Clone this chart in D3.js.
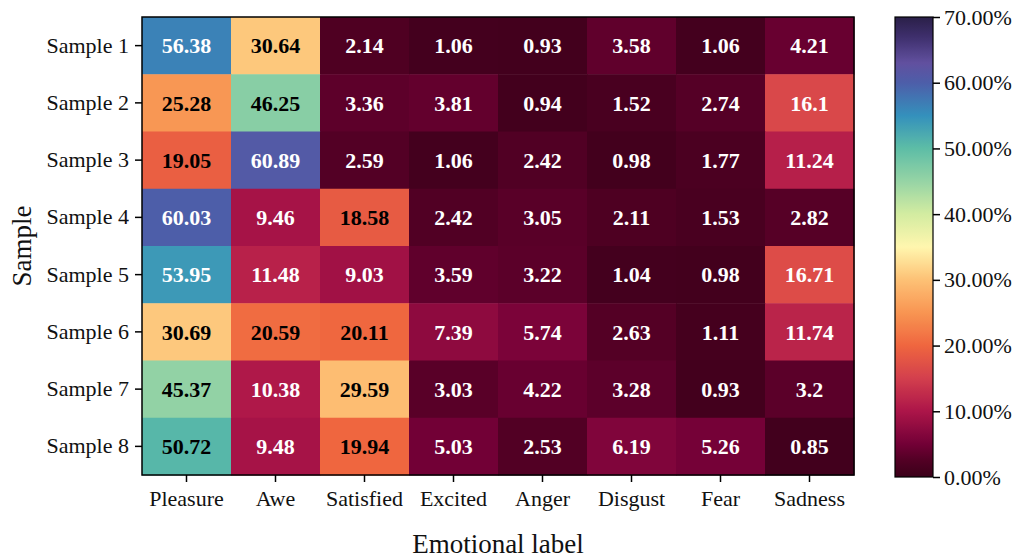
<!DOCTYPE html>
<html>
<head>
<meta charset="utf-8">
<script src="https://cdn.jsdelivr.net/npm/d3@7"></script>
<style>
  html, body { margin: 0; padding: 0; background: #fff; }
  svg { display: block; font-family: "Liberation Serif", "Times New Roman", serif; }
</style>
</head>
<body>
<svg id="chart" width="1024" height="558"></svg>
<script>
// Emotion distribution per sample (percent)
const samples = ["Sample 1", "Sample 2", "Sample 3", "Sample 4", "Sample 5", "Sample 6", "Sample 7", "Sample 8"];
const emotions = ["Pleasure", "Awe", "Satisfied", "Excited", "Anger", "Disgust", "Fear", "Sadness"];

const sample1 = [56.38, 30.64, 2.14, 1.06, 0.93, 3.58, 1.06, 4.21];
const sample2 = [25.28, 46.25, 3.36, 3.81, 0.94, 1.52, 2.74, 16.1];
const sample3 = [19.05, 60.89, 2.59, 1.06, 2.42, 0.98, 1.77, 11.24];
const sample4 = [60.03, 9.46, 18.58, 2.42, 3.05, 2.11, 1.53, 2.82];
const sample5 = [53.95, 11.48, 9.03, 3.59, 3.22, 1.04, 0.98, 16.71];
const sample6 = [30.69, 20.59, 20.11, 7.39, 5.74, 2.63, 1.11, 11.74];
const sample7 = [45.37, 10.38, 29.59, 3.03, 4.22, 3.28, 0.93, 3.2];
const sample8 = [50.72, 9.48, 19.94, 5.03, 2.53, 6.19, 5.26, 0.85];
const rows = [sample1, sample2, sample3, sample4, sample5, sample6, sample7, sample8];

const colorbarTicks = [0, 10, 20, 30, 40, 50, 60, 70];

// Colour ramp: dark maroon through the spectral hues to deep indigo
const rampStops = [0, 2.5, 5, 10, 15, 20, 25, 30, 35, 40, 45, 50, 55, 60, 63, 67, 70];
const rampColors = ["#3a0019", "#520024", "#720036", "#ac1549", "#d33f4d", "#ef663f", "#f89552", "#fdc175",
                    "#fff6ae", "#d3eca1", "#96d4a5", "#5dbda6", "#3490bc", "#4d5ea9", "#61509f",
                    "#3e2f6c", "#2a1f48"];
const color = d3.scaleLinear().domain(rampStops).range(rampColors).interpolate(d3.interpolateRgb);

const svg = d3.select("#chart");
const heat = { left: 142, top: 17, width: 712, height: 458 };

const x = d3.scaleBand().domain(emotions).range([heat.left, heat.left + heat.width]);
const y = d3.scaleBand().domain(samples).range([heat.top, heat.top + heat.height]);

const cells = [];
rows.forEach((vals, i) => vals.forEach((v, j) => cells.push({ s: samples[i], e: emotions[j], v })));

svg.append("g").selectAll("rect").data(cells).join("rect")
  .attr("x", d => x(d.e))
  .attr("y", d => y(d.s))
  .attr("width", x.bandwidth() + 0.5)
  .attr("height", y.bandwidth() + 0.5)
  .attr("fill", d => color(d.v));

svg.append("g").selectAll("text").data(cells).join("text")
  .attr("x", d => x(d.e) + x.bandwidth() / 2)
  .attr("y", d => y(d.s) + y.bandwidth() / 2)
  .attr("dy", "0.35em")
  .attr("text-anchor", "middle")
  .attr("font-size", 22)
  .attr("font-weight", "bold")
  .attr("fill", d => (d.v > 17.5 && d.v < 52) ? "#000" : "#fff")
  .text(d => d.v);

svg.append("rect")
  .attr("x", heat.left).attr("y", heat.top)
  .attr("width", heat.width).attr("height", heat.height)
  .attr("fill", "none").attr("stroke", "#000").attr("stroke-width", 1.5);

// Axes
const xAxis = svg.append("g")
  .attr("transform", `translate(0,${heat.top + heat.height})`)
  .call(d3.axisBottom(x).tickSize(7).tickPadding(8));
const yAxis = svg.append("g")
  .attr("transform", `translate(${heat.left},0)`)
  .call(d3.axisLeft(y).tickSize(7).tickPadding(6));
[xAxis, yAxis].forEach(g => {
  g.select(".domain").remove();
  g.selectAll("line").attr("stroke", "#000").attr("stroke-width", 1.5);
  g.selectAll("text").attr("font-size", 22).attr("fill", "#111")
    .attr("font-family", "Liberation Serif, Times New Roman, serif");
});

svg.append("text")
  .attr("x", heat.left + heat.width / 2).attr("y", 553)
  .attr("text-anchor", "middle").attr("font-size", 27).attr("fill", "#111")
  .text("Emotional label");

svg.append("text")
  .attr("transform", `translate(31,${heat.top + heat.height / 2}) rotate(-90)`)
  .attr("text-anchor", "middle").attr("font-size", 27).attr("fill", "#111")
  .text("Sample");

// Colour bar
const cb = { left: 895, top: 17, width: 38, height: 460 };
const cy = d3.scaleLinear().domain([0, 70]).range([cb.top + cb.height, cb.top]);
const defs = svg.append("defs");
const grad = defs.append("linearGradient").attr("id", "cbar")
  .attr("x1", 0).attr("y1", 1).attr("x2", 0).attr("y2", 0);
d3.range(0, 70.01, 0.5).forEach(v => {
  grad.append("stop").attr("offset", v / 70).attr("stop-color", color(v));
});
svg.append("rect")
  .attr("x", cb.left).attr("y", cb.top).attr("width", cb.width).attr("height", cb.height)
  .attr("fill", "url(#cbar)").attr("stroke", "#000").attr("stroke-width", 1.2);

const cAxis = svg.append("g")
  .attr("transform", `translate(${cb.left + cb.width},0)`)
  .call(d3.axisRight(cy).tickValues(colorbarTicks).tickSize(7).tickPadding(4)
    .tickFormat(d => d.toFixed(2) + "%"));
cAxis.select(".domain").remove();
cAxis.selectAll("line").attr("stroke", "#000").attr("stroke-width", 1.5);
cAxis.selectAll("text").attr("font-size", 22).attr("fill", "#111")
  .attr("font-family", "Liberation Serif, Times New Roman, serif");
</script>
</body>
</html>
